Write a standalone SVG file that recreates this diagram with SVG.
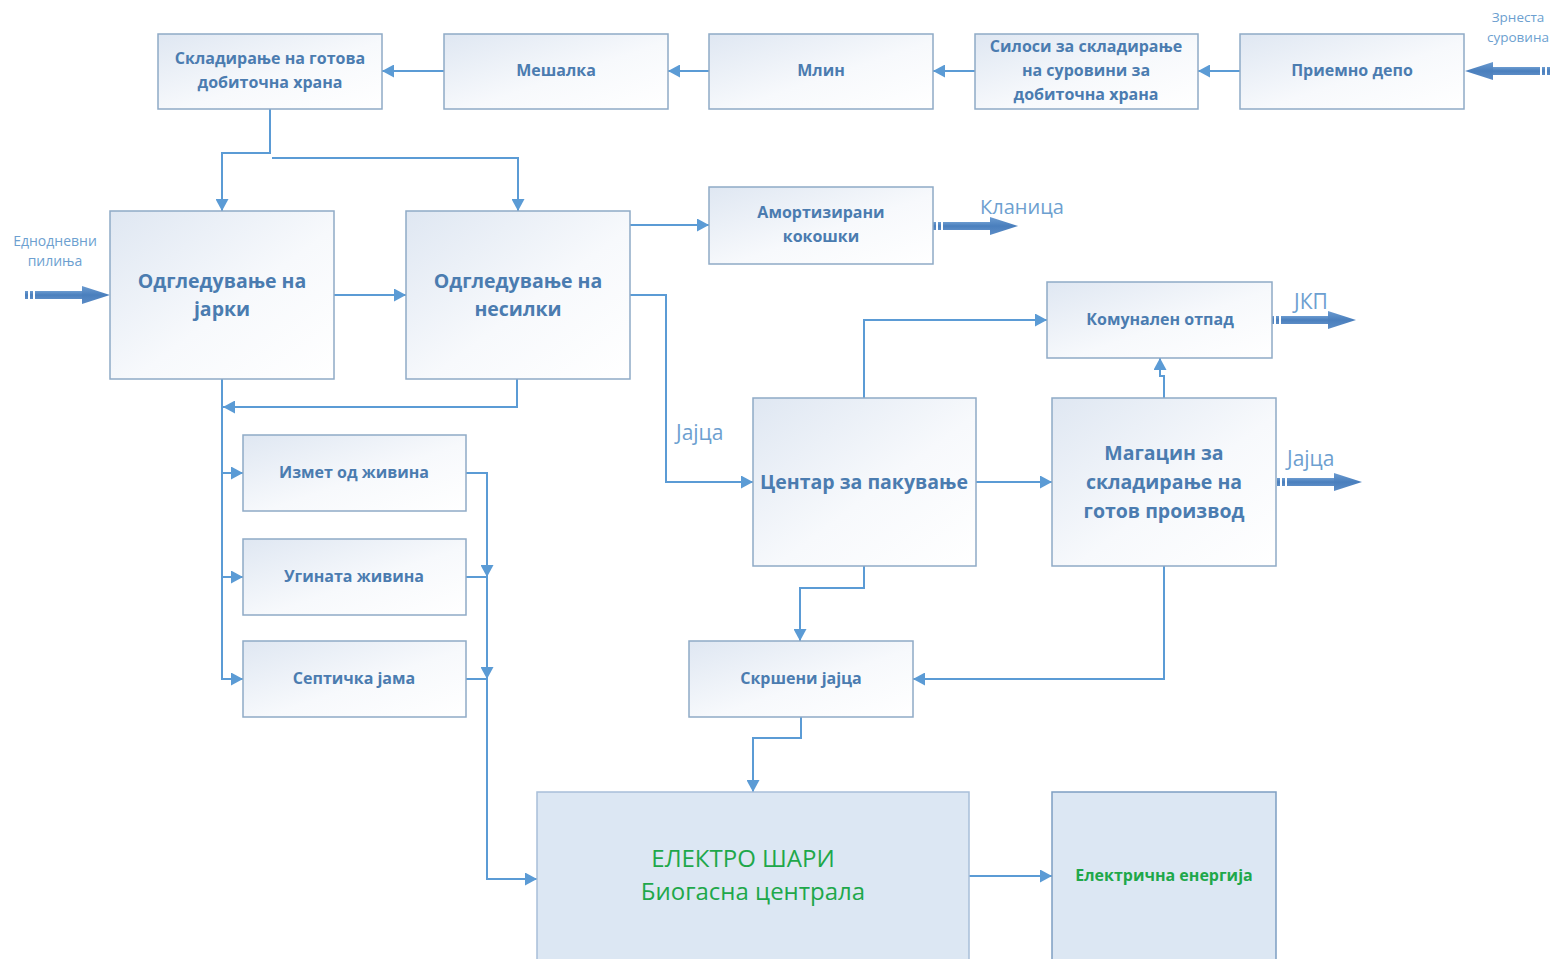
<svg xmlns="http://www.w3.org/2000/svg" xmlns:xlink="http://www.w3.org/1999/xlink" width="1558" height="959" viewBox="0 0 1558 959">
  <defs>
    <linearGradient id="boxFill" x1="0" y1="0" x2="1" y2="1">
      <stop offset="0" stop-color="#dfe7f2"/>
      <stop offset="0.55" stop-color="#f7f9fc"/>
      <stop offset="1" stop-color="#ffffff"/>
    </linearGradient>
    <linearGradient id="fatFill" x1="0" y1="0" x2="0" y2="1">
      <stop offset="0" stop-color="#6b9bd0"/>
      <stop offset="0.5" stop-color="#4a7fbd"/>
      <stop offset="1" stop-color="#5b8cc6"/>
    </linearGradient>
    <marker id="arr" markerUnits="userSpaceOnUse" markerWidth="13" markerHeight="13" refX="12" refY="6.5" orient="auto">
      <path d="M0,0 L12,6.5 L0,13 Z" fill="#5b9bd5"/>
    </marker>
    <!-- thick external-flow arrow, tail at x=0, tip at x=85 -->
    <g id="fat" fill="url(#fatFill)">
      <rect x="0" y="-4" width="3" height="8"/>
      <rect x="5" y="-4" width="3" height="8"/>
      <rect x="10" y="-4" width="50" height="8"/>
      <polygon points="57,-9 85,0 57,9"/>
    </g>
  </defs>
  <style>
    .box { fill: url(#boxFill); stroke: #8faac6; stroke-width: 1.5; }
    .bio { fill: #dce7f3; stroke: #a8bfd9; stroke-width: 1.5; }
    .bio2 { fill: #dce7f3; stroke: #7d9ec2; stroke-width: 1.5; }
    .t { font-family: "Open Sans", "Liberation Sans", sans-serif; font-weight: 700; fill: #4b7cb0; text-anchor: middle; font-size: 16px; }
    .tl { font-size: 19.5px; }
    .lbl { font-family: "Open Sans", "Liberation Sans", sans-serif; fill: #6d9fd0; }
    .g1 { font-family: "Open Sans", "Liberation Sans", sans-serif; fill: #1ea84a; text-anchor: middle; font-size: 24px; }
    .g2 { font-family: "Open Sans", "Liberation Sans", sans-serif; fill: #1ea84a; text-anchor: middle; font-size: 16px; font-weight: 700; }
    .c { fill: none; stroke: #5b9bd5; stroke-width: 2; marker-end: url(#arr); }
  </style>

  <rect width="1558" height="959" fill="#ffffff"/>

  <!-- connectors -->
  <g id="connectors">
    <path class="c" d="M1240,71 H1198"/>
    <path class="c" d="M975,71 H933"/>
    <path class="c" d="M709,71 H668"/>
    <path class="c" d="M444,71 H382"/>
    <path class="c" d="M270,109 V153 H222 V211"/>
    <path class="c" d="M272,158 H518 V211"/>
    <path class="c" d="M334,295 H406"/>
    <path class="c" d="M630,225 H709"/>
    <path class="c" d="M630,295 H666 V482 H753"/>
    <path class="c" d="M517,379 V407 H223"/>
    <path class="c" d="M222,379 V473 H243"/>
    <path class="c" d="M222,473 V577 H243"/>
    <path class="c" d="M222,577 V679 H243"/>
    <path class="c" d="M466,473 H487 V577"/>
    <path class="c" d="M466,577 H487 V679"/>
    <path class="c" d="M466,679 H487 V879 H537"/>
    <path class="c" d="M864,398 V320 H1047"/>
    <path class="c" d="M1164,398 V376 H1160 V358"/>
    <path class="c" d="M976,482 H1052"/>
    <path class="c" d="M864,566 V588 H800 V641"/>
    <path class="c" d="M1164,566 V679 H913"/>
    <path class="c" d="M801,717 V738 H753 V792"/>
    <path class="c" d="M969,876 H1052"/>

    <!-- external flows -->
    <use xlink:href="#fat" transform="translate(1550,71) scale(-1,1)"/>
    <use xlink:href="#fat" transform="translate(25,295)"/>
    <use xlink:href="#fat" transform="translate(933,226)"/>
    <use xlink:href="#fat" transform="translate(1271,320)"/>
    <use xlink:href="#fat" transform="translate(1277,482)"/>
  </g>

  <!-- flow labels -->
  <g id="flow-labels">
    <text class="lbl" x="1518" y="22" font-size="13.5" text-anchor="middle">Зрнеста</text>
    <text class="lbl" x="1518" y="42" font-size="13.5" text-anchor="middle">суровина</text>
    <text class="lbl" x="55" y="246" font-size="14" text-anchor="middle">Еднодневни</text>
    <text class="lbl" x="55" y="266" font-size="14" text-anchor="middle">пилиња</text>
    <text class="lbl" x="980" y="214" font-size="20">Кланица</text>
    <text class="lbl" x="1294" y="309" font-size="21">ЈКП</text>
    <text class="lbl" x="676" y="440" font-size="21">Јајца</text>
    <text class="lbl" x="1287" y="466" font-size="21">Јајца</text>
  </g>

  <!-- nodes -->
  <g id="n-skladiranje-hrana">
    <rect class="box" x="158" y="34" width="224" height="75"/>
    <text class="t" x="270" y="64">Складирање на готова</text>
    <text class="t" x="270" y="88">добиточна храна</text>
  </g>
  <g id="n-meshalka">
    <rect class="box" x="444" y="34" width="224" height="75"/>
    <text class="t" x="556" y="76">Мешалка</text>
  </g>
  <g id="n-mlin">
    <rect class="box" x="709" y="34" width="224" height="75"/>
    <text class="t" x="821" y="76">Млин</text>
  </g>
  <g id="n-silosi">
    <rect class="box" x="975" y="34" width="223" height="75"/>
    <text class="t" x="1086" y="52">Силоси за складирање</text>
    <text class="t" x="1086" y="76">на суровини за</text>
    <text class="t" x="1086" y="100">добиточна храна</text>
  </g>
  <g id="n-priemno">
    <rect class="box" x="1240" y="34" width="224" height="75"/>
    <text class="t" x="1352" y="76">Приемно депо</text>
  </g>
  <g id="n-jarki">
    <rect class="box" x="110" y="211" width="224" height="168"/>
    <text class="t tl" x="222" y="288">Одгледување на</text>
    <text class="t tl" x="222" y="316">јарки</text>
  </g>
  <g id="n-nesilki">
    <rect class="box" x="406" y="211" width="224" height="168"/>
    <text class="t tl" x="518" y="288">Одгледување на</text>
    <text class="t tl" x="518" y="316">несилки</text>
  </g>
  <g id="n-amortizirani">
    <rect class="box" x="709" y="187" width="224" height="77"/>
    <text class="t" x="821" y="218">Амортизирани</text>
    <text class="t" x="821" y="242">кокошки</text>
  </g>
  <g id="n-komunalen">
    <rect class="box" x="1047" y="282" width="225" height="76"/>
    <text class="t" x="1160" y="325">Комунален отпад</text>
  </g>
  <g id="n-centar">
    <rect class="box" x="753" y="398" width="223" height="168"/>
    <text class="t tl" x="864" y="489">Центар за пакување</text>
  </g>
  <g id="n-magacin">
    <rect class="box" x="1052" y="398" width="224" height="168"/>
    <text class="t tl" x="1164" y="460">Магацин за</text>
    <text class="t tl" x="1164" y="489">складирање на</text>
    <text class="t tl" x="1164" y="518">готов производ</text>
  </g>
  <g id="n-izmet">
    <rect class="box" x="243" y="435" width="223" height="76"/>
    <text class="t" x="354" y="478">Измет од живина</text>
  </g>
  <g id="n-uginata">
    <rect class="box" x="243" y="539" width="223" height="76"/>
    <text class="t" x="354" y="582">Угината живина</text>
  </g>
  <g id="n-septicka">
    <rect class="box" x="243" y="641" width="223" height="76"/>
    <text class="t" x="354" y="684">Септичка јама</text>
  </g>
  <g id="n-skrseni">
    <rect class="box" x="689" y="641" width="224" height="76"/>
    <text class="t" x="801" y="684">Скршени јајца</text>
  </g>
  <g id="n-biogas">
    <rect class="bio" x="537" y="792" width="432" height="170"/>
    <text class="g1" x="743" y="867">ЕЛЕКТРО ШАРИ</text>
    <text class="g1" x="753" y="900">Биогасна централа</text>
  </g>
  <g id="n-energija">
    <rect class="bio2" x="1052" y="792" width="224" height="170"/>
    <text class="g2" x="1164" y="881">Електрична енергија</text>
  </g>
</svg>
